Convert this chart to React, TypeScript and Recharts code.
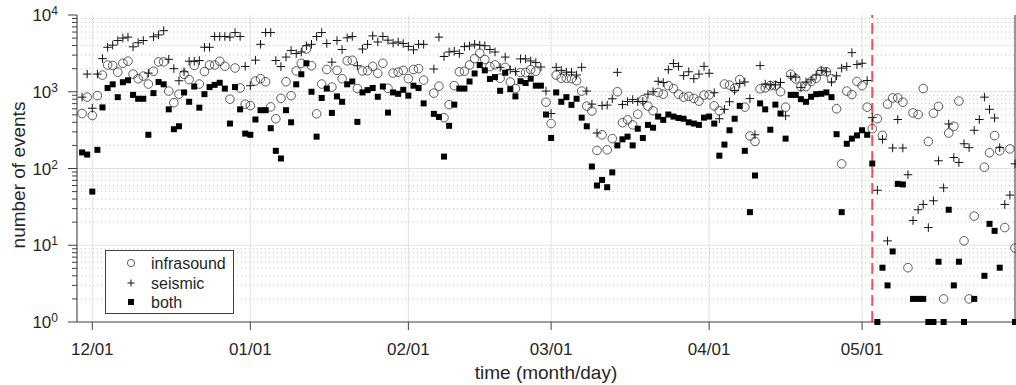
import React from 'react';
import {
  ScatterChart,
  Scatter,
  XAxis,
  YAxis,
  CartesianGrid,
  ReferenceLine,
  Legend,
} from 'recharts';

// Day index 0 = 12/01; the record runs from 11/29 (day -2) to 05/31 (day 181).
const FIRST_DAY = -2;

const monthTickDays = [0, 31, 62, 90, 121, 151];
const monthTickLabels = ['12/01', '01/01', '02/01', '03/01', '04/01', '05/01'];
const decadeTicks = [1, 10, 100, 1000, 10000];
const onsetDay = 153; // 05/03

// Daily event counts, one entry per day starting at FIRST_DAY (null = no value)
const infrasoundCounts: (number | null)[] = [
  520, 850, 490, 890, 1650, 2230, 2200, 1800, 2350, 2500,
  1700, 1480, 1600, 1260, 1850, 2450, 2450, 1020, 720, 930,
  1690, 1440, 2200, 1260, 1830, 2230, 2230, 2500, 2150, 800,
  2040, 1120, 690, 660, 1380, 1480, 1350, 635, 445, 820,
  1350, 890, 1870, 2350, 3600, 2180, 515, 1260, 1950, 1150,
  1900, 1480, 2530, 2570, 1100, 1870, 1880, 2140, 1740, 2350,
  1110, 1750, 1800, 1900, 1480, 1950, 2000, 1420, null, 960,
  1180, 460, 680, 1200, 1820, 1850, 2230, 2700, 3170, 2630,
  2130, 2240, 1500, 2080, 1340, 1100, 1780, 1780, 1940, 1850,
  null, 730, 385, 1650, 1500, 1500, 1480, 1390, 1020, 650,
  560, 172, 275, 175, 245, 1000, 395, 430, 370, 510,
  790, 650, 565, 980, 930, 1200, 1100, 930, 850, 870,
  820, 755, 905, 910, 655, 565, 1260, 1220, 1110, 1440,
  630, 265, 225, 1090, 1120, 1200, 1200, 1000, 630, 1690,
  1470, 1170, 1170, 1360, 1500, 1850, 1820, 1480, 600, 115,
  1020, 920, 1360, 1200, 630, 330, 445, 270, 690, 830,
  830, 730, 5.1, 530, 505, 1100, 225, 525, 645, 2,
  290, 355, 755, 11.4, 2, 24, null, 104, 160, 268,
  170, 17, 180, 9.2,
];

const seismicCounts: (number | null)[] = [
  850, 1700, 610, 1700, 2700, 3800, 4050, 4650, 5000, 5150,
  3850, 4350, 4650, 1750, 5200, 5500, 6250, 2650, 2000, 1390,
  1820, 2500, 2500, 2550, 3800, 3800, 5250, 5250, 5250, 5150,
  5900, 5250, 2140, 1200, 2580, 4150, 5900, 5900, 2550, 2130,
  2830, 3450, 3150, 3300, 3970, 4150, 5250, 5900, 4250, 2430,
  4650, 3550, 5050, 5250, 2180, 3600, 4150, 5350, 4450, 5250,
  4700, 4300, 4450, 4250, 3900, 3520, 4150, 4150, null, 1980,
  5150, 2880, 3300, 3370, 3150, 3870, 3950, 4150, 4050, 3970,
  3550, 3300, 2080, 2830, 1940, 1830, 2680, 2680, 2520, 2400,
  2100, 1020, 520, 2080, 1900, 1800, 1800, 1650, 2080, 1020,
  690, 290, 660, 670, 810, 1790, 680, 745, 790, 745,
  745, 930, 1000, 1370, 1320, 1940, 2330, 2140, 1620, 1820,
  1480, 1700, 2140, 1740, 970, 445, 590, 740, 1040, 1280,
  1340, 815, 275, 2190, 1260, 1230, 1230, 1320, 485, 1590,
  1550, 1140, 1340, 1430, 1650, 1900, 1820, 1340, 1610, 2030,
  2130, 3230, 2270, 2350, 1400, 460, 52, 240, 11.4, 185,
  435, 185, 83, 21, 29, 34, 17, 38, 126, 56,
  380, 139, 120, 210, 187, 315, 435, 850, 590, 455,
  187, 34, 45, 115,
];

const bothCounts: (number | null)[] = [
  162, 152, 50, 175, 625, 1120, 1250, 850, 1330, 1410,
  910, 810, 810, 275, 960, 1340, 1250, 590, 325, 355,
  980, 740, 1170, 620, 930, 1150, 1230, 1310, 1100, 385,
  1150, 590, 285, 275, 435, 575, 575, 335, 170, 135,
  575, 400, 1250, 1690, 2350, 1000, 260, 830, 1100, 530,
  870, 740, 1250, 1360, 405, 980, 1050, 1120, 860, 1170,
  535, 980, 940, 1060, 890, 1200, 1120, 705, null, 515,
  470, 143, 360, 680, 1100, 1100, 1360, 1730, 2230, 1900,
  1470, 1550, 1030, 1770, 1080, 870, 1370, 1300, 1480, 1200,
  1200, 505, 250, 980, 740, 850, 675, 810, 460, 355,
  106, 60, 71, 57, 89, 200, 240, 260, 200, 330,
  250, 370, 340, 475, 430, 505, 475, 455, 445, 400,
  385, 370, 460, 475, 385, 147, 205, 315, 445, 655,
  170, 27, 81, 705, 590, 320, 680, 520, 245, 910,
  910, 800, 740, 860, 930, 940, 980, 850, 280, 27,
  210, 245, 270, 315, 275, 116, 1, 5.1, 3, 8.3,
  63, 62, null, 2, 2, 2, 1, 1, 6.1, 1,
  29, 3, 6.1, 1, null, 2, null, 4, 19, 15.4,
  5.1, null, null, 1,
];

type Pt = { day: number; count: number };

const toPoints = (values: (number | null)[]): Pt[] => {
  const out: Pt[] = [];
  values.forEach((v, i) => {
    if (v != null) out.push({ day: FIRST_DAY + i, count: v });
  });
  return out;
};

const infrasoundPts = toPoints(infrasoundCounts);
const seismicPts = toPoints(seismicCounts);
const bothPts = toPoints(bothCounts);

// minor log ticks 2..9 within each decade
const minorTicks: number[] = [];
[1, 10, 100, 1000].forEach((d) => {
  for (let m = 2; m <= 9; m++) minorTicks.push(m * d);
});
const yTicks = [...decadeTicks, ...minorTicks].sort((a, b) => a - b);

const FONT = '"Liberation Sans", Arial, Helvetica, sans-serif';
const TEXT = '#262626';
const AXIS = '#404040';
const GRID_MAJOR = '#e0e0e0';
const GRID_MINOR = '#c4c4c4';

const WIDTH = 1016;
const HEIGHT = 385;

const YTick = (props: any) => {
  const { x, y, payload } = props;
  const v = payload.value as number;
  const exp = Math.round(Math.log10(v));
  const isMajor = Math.abs(Math.pow(10, exp) - v) < 1e-6;
  return (
    <g>
      <line x1={x - (isMajor ? 9 : 5)} x2={x} y1={y} y2={y} stroke={AXIS} strokeWidth={1} />
      {isMajor && (
        <text x={x - 19} y={y + 6} textAnchor="end" fontSize={17} fill={TEXT} fontFamily={FONT}>
          10
          <tspan dy={-6} fontSize={12}>
            {exp}
          </tspan>
        </text>
      )}
    </g>
  );
};

const XTick = (props: any) => {
  const { x, y, payload } = props;
  const idx = monthTickDays.indexOf(payload.value);
  return (
    <text x={x} y={y + 25} textAnchor="middle" fontSize={17} fill={TEXT} fontFamily={FONT}>
      {monthTickLabels[idx]}
    </text>
  );
};

const CircleMark = (props: any) => (
  <circle cx={props.cx} cy={props.cy} r={4.3} fill="none" stroke="#333" strokeWidth={0.8} />
);
const PlusMark = (props: any) => {
  const { cx, cy } = props;
  return (
    <path
      d={`M${cx - 4.3},${cy}H${cx + 4.3}M${cx},${cy - 4.3}V${cy + 4.3}`}
      stroke="#111"
      strokeWidth={1}
      fill="none"
    />
  );
};
const SquareMark = (props: any) => (
  <rect x={props.cx - 3} y={props.cy - 3} width={6} height={6} fill="#000" />
);

const LegendBox = () => (
  <svg width={129} height={64} style={{ display: 'block' }}>
    <rect x={0.5} y={0.5} width={128} height={63} fill="#fff" stroke={AXIS} strokeWidth={1} />
    <circle cx={26} cy={13} r={3.6} fill="none" stroke="#333" strokeWidth={0.8} />
    <path d="M22.5,33H29.5M26,29.5V36.5" stroke="#111" strokeWidth={1} />
    <rect x={23} y={49} width={6} height={6} fill="#000" />
    <g fontFamily={FONT} fontSize={16} fill={TEXT}>
      <text x={46} y={18.5}>infrasound</text>
      <text x={46} y={38.5}>seismic</text>
      <text x={46} y={58}>both</text>
    </g>
  </svg>
);

export default function App() {
  return (
    <div style={{ width: WIDTH, height: HEIGHT }}>
      {/* chart fills the window from its top-left corner */}
      <style>{`html, body { margin: 0; padding: 0; } #root { width: ${WIDTH}px; height: ${HEIGHT}px; }`}</style>
      <ScatterChart width={WIDTH} height={HEIGHT} margin={{ top: 15, right: 0, bottom: 0, left: 0 }}>
        <CartesianGrid horizontal={false} stroke={GRID_MAJOR} strokeWidth={1} />
        {minorTicks.map((v) => (
          <ReferenceLine key={`mn${v}`} y={v} stroke={GRID_MINOR} strokeDasharray="1 3" strokeWidth={1} />
        ))}
        {[10, 100, 1000].map((v) => (
          <ReferenceLine key={`mj${v}`} y={v} stroke={GRID_MAJOR} strokeWidth={1} />
        ))}
        <XAxis
          dataKey="day"
          type="number"
          domain={[-3, 181]}
          ticks={monthTickDays}
          interval={0}
          height={63}
          tickSize={8}
          tickMargin={0}
          tick={<XTick />}
          axisLine={{ stroke: AXIS }}
          tickLine={{ stroke: AXIS }}
          label={{
            content: () => (
              <text x={546} y={379} textAnchor="middle" fontSize={19} fill={TEXT} fontFamily={FONT}>
                time (month/day)
              </text>
            ),
          }}
        />
        <XAxis
          xAxisId="top"
          orientation="top"
          type="number"
          domain={[-3, 181]}
          ticks={monthTickDays}
          interval={0}
          height={0}
          tickSize={8}
          tick={false}
          axisLine={{ stroke: AXIS }}
          tickLine={{ stroke: AXIS }}
        />
        <YAxis
          dataKey="count"
          type="number"
          scale="log"
          domain={[1, 10000]}
          ticks={yTicks}
          interval={0}
          width={77}
          tickSize={0}
          tickMargin={0}
          tickLine={false}
          tick={<YTick />}
          axisLine={{ stroke: AXIS }}
          label={{
            content: () => (
              <text
                x={25}
                y={175}
                transform="rotate(-90, 25, 175)"
                textAnchor="middle"
                fontSize={19}
                fill={TEXT}
                fontFamily={FONT}
              >
                number of events
              </text>
            ),
          }}
        />
        <YAxis
          yAxisId="right"
          orientation="right"
          type="number"
          scale="log"
          domain={[1, 10000]}
          ticks={decadeTicks}
          width={1}
          tick={false}
          tickLine={false}
          axisLine={{ stroke: AXIS }}
        />
        <Scatter name="infrasound" data={infrasoundPts} shape={<CircleMark />} isAnimationActive={false} />
        <Scatter name="seismic" data={seismicPts} shape={<PlusMark />} isAnimationActive={false} />
        <Scatter name="both" data={bothPts} shape={<SquareMark />} isAnimationActive={false} />
        <ReferenceLine x={onsetDay} stroke="#ff4d4d" strokeWidth={2} strokeDasharray="11 5" />
        <Legend
          layout="horizontal"
          verticalAlign="middle"
          align="center"
          wrapperStyle={{ left: 105, top: 250, width: 129, height: 64 }}
          content={() => <LegendBox />}
        />
      </ScatterChart>
    </div>
  );
}
